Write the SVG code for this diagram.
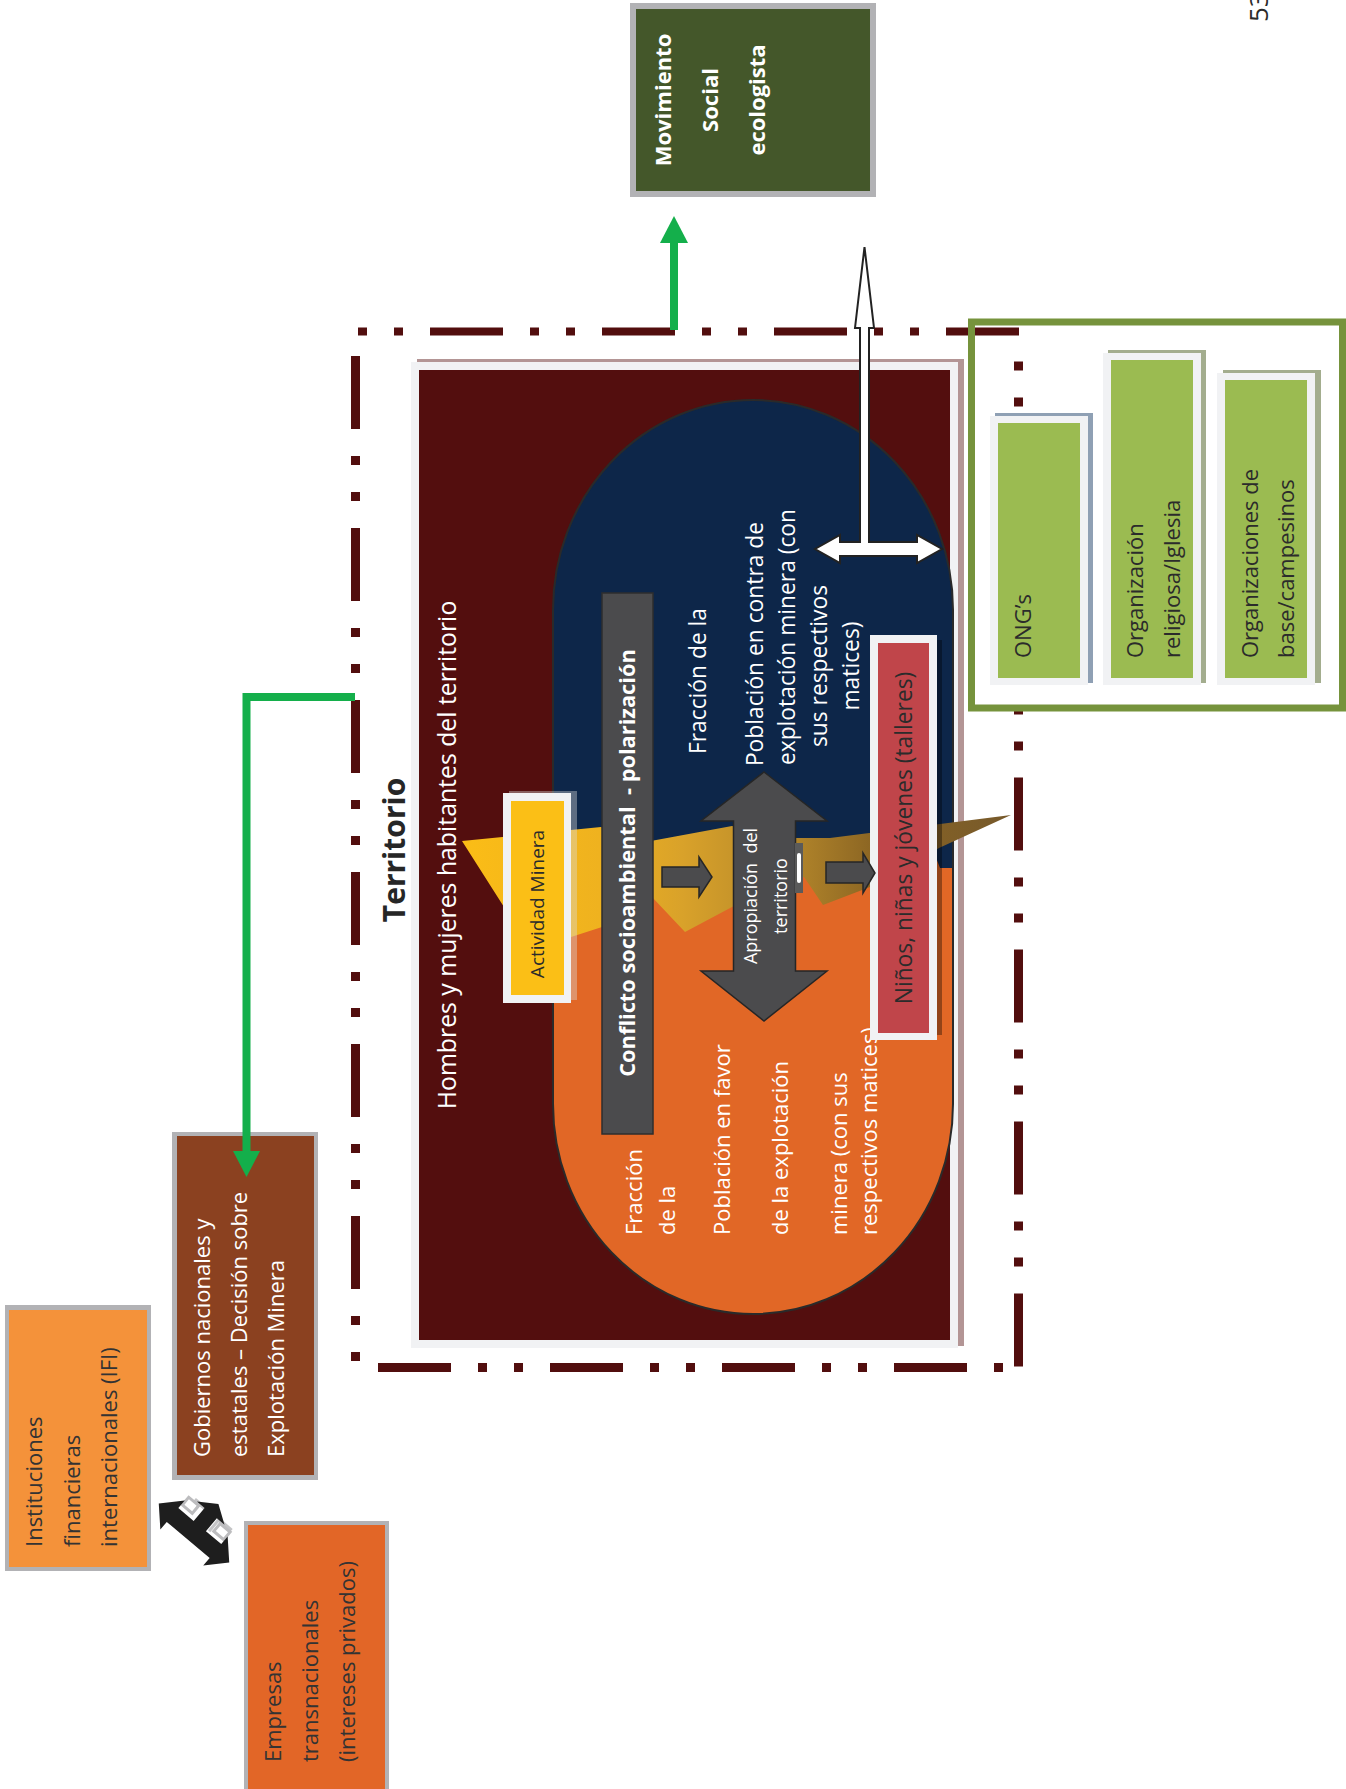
<svg xmlns="http://www.w3.org/2000/svg" width="1346" height="1789" viewBox="0 0 1346 1789">
<defs>
<style>
text{font-family:"Open Sans","Noto Sans","Liberation Sans",sans-serif;}
.w{fill:#ffffff}
.d{fill:#2b2b2b}
.bold{font-weight:700}
.f22{font-size:22px}
.mid{text-anchor:middle}
.dash{fill:none;stroke:#520e0e;stroke-linecap:butt}
.gbox{fill:#b2b2b5}
.garrow{fill:#4b4b4d;stroke:#262626;stroke-width:1.5}
</style>
<linearGradient id="band" gradientUnits="userSpaceOnUse" x1="462" y1="0" x2="1011" y2="0">
<stop offset="0" stop-color="#fbbd16"/>
<stop offset="0.25" stop-color="#efb21f"/>
<stop offset="0.4" stop-color="#d9a22a"/>
<stop offset="0.6" stop-color="#b3862a"/>
<stop offset="0.75" stop-color="#8b6523"/>
<stop offset="1" stop-color="#76592b"/>
</linearGradient>
<clipPath id="blueClip"><polygon points="540,380 970,380 970,868 940,868 935,855 870,858 804,862 732,866 652,870 540,880"/></clipPath>
<path id="stad" d="M553,610 A200,210 0 0 1 953,610 L953,1104 A200,210 0 0 1 553,1104 Z"/>
</defs>
<rect x="0" y="0" width="1346" height="1789" fill="#ffffff"/>

<text class="d" font-size="26" transform="translate(1268,22) rotate(-90)" fill="#333">53</text>

<g id="movimiento">
<rect x="630" y="3" width="246" height="194" class="gbox"/>
<rect x="636" y="9" width="234" height="182" fill="#44572a"/>
<text class="w bold f22 mid" transform="translate(671,100) rotate(-90)">Movimiento</text>
<text class="w bold f22 mid" transform="translate(718,100) rotate(-90)">Social</text>
<text class="w bold f22 mid" transform="translate(765,100) rotate(-90)">ecologista</text>
</g>

<g id="territorio">
<rect x="417" y="359" width="547" height="987" fill="#b39595"/>
<rect x="411" y="362" width="547" height="986" fill="#f1f2f4"/>
<rect x="419" y="370" width="531" height="970" fill="#530e0e"/>
<use href="#stad" fill="#e16726"/>
<use href="#stad" fill="#0d2649" clip-path="url(#blueClip)"/>
<use href="#stad" fill="none" stroke="#2a2a2a" stroke-width="2"/>
<polygon fill="url(#band)" points="462,841 601,827 640,843 732,826 790,838 830,838 1011,815 939,848 870,887 823,905 804,877 760,895 732,907 685,932 652,897 620,915 602,927 571,937 540,925 504,907"/>
<text class="w" font-size="24.8" text-anchor="middle" transform="translate(456,855) rotate(-90)">Hombres y mujeres habitantes del territorio</text>
</g>

<g id="poblacion-contra">
<text class="w mid" font-size="22.8" transform="translate(706,681) rotate(-90)">Fracción de la</text>
<text class="w mid" font-size="22.8" transform="translate(763,644) rotate(-90)">Población en contra de</text>
<text class="w mid" font-size="22.8" transform="translate(795,637) rotate(-90)">explotación minera (con</text>
<text class="w mid" font-size="22.8" transform="translate(827,666) rotate(-90)">sus respectivos</text>
<text class="w mid" font-size="22.8" transform="translate(859,666) rotate(-90)">matices)</text>
</g>

<g id="poblacion-favor">
<text class="w f22" transform="translate(642,1235) rotate(-90)">Fracción</text>
<text class="w f22" transform="translate(675,1235) rotate(-90)">de la</text>
<text class="w f22" transform="translate(730,1235) rotate(-90)">Población en favor</text>
<text class="w f22" transform="translate(788,1235) rotate(-90)">de la explotación</text>
<text class="w f22" transform="translate(847,1235) rotate(-90)">minera (con sus</text>
<text class="w f22" transform="translate(877,1235) rotate(-90)">respectivos matices)</text>
</g>

<g id="actividad-minera">
<rect x="509" y="791" width="68" height="209" fill="#d9d9d9" opacity="0.4"/>
<rect x="503" y="793" width="68" height="210" fill="#f1f2f4"/>
<rect x="511" y="801" width="53" height="194" fill="#fbbf16"/>
<text class="d mid" font-size="19" transform="translate(544,904) rotate(-90)">Actividad Minera</text>
</g>

<g id="conflicto">
<rect x="602" y="593" width="51" height="541" fill="#4b4b4d" stroke="#2e2e2e" stroke-width="1.5"/>
<text class="w bold mid" font-size="21.8" style="white-space:pre" transform="translate(635,863) rotate(-90)">Conflicto socioambiental  - polarización</text>
</g>

<g id="apropiacion">
<path class="garrow" d="M764,772 L827,821 L795.5,821 L795.5,971 L827,971 L764,1021 L701,971 L733.5,971 L733.5,821 L701,821 Z"/>
<rect x="795" y="843" width="8" height="50" fill="#5a5a5a"/>
<rect x="797" y="853" width="4" height="30" rx="2" fill="#ffffff"/>
<text class="w mid" font-size="18" style="white-space:pre" transform="translate(757,896) rotate(-90)">Apropiación  del</text>
<text class="w mid" font-size="18" transform="translate(787,896) rotate(-90)">territorio</text>
</g>

<g id="ninos">
<rect x="937" y="640" width="5" height="395" fill="#000" opacity="0.35"/>
<rect x="870" y="635" width="67" height="405" fill="#f1f2f4"/>
<rect x="878" y="643" width="51" height="390" fill="#c0454a"/>
<text class="d mid" font-size="22.8" transform="translate(912,838) rotate(-90)">Niños, niñas y jóvenes (talleres)</text>
</g>

<g id="borde-territorio">
<path class="dash" stroke-width="8" stroke-dasharray="9 27 9 27 73 27" d="M358,331.5 H1023"/>
<path class="dash" stroke-width="9" stroke-dasharray="73 27 9 27 9 27" d="M355.5,356 V1363"/>
<path class="dash" stroke-width="9" stroke-dasharray="73 27 9 27 9 27" d="M378,1367.5 H1005"/>
<path class="dash" stroke-width="9" stroke-dasharray="9 27 9 27 73 27" d="M1018.5,361.5 V1368"/>
</g>

<g id="organizaciones">
<rect x="971.5" y="322" width="371" height="386" fill="none" stroke="#76933c" stroke-width="7"/>
<g id="ongs">
<rect x="995" y="413" width="98" height="270" fill="#8fa0b4"/>
<rect x="990" y="416" width="98" height="269" fill="#f1f2f4"/>
<rect x="998" y="423" width="82" height="255" fill="#9bbb51"/>
<text class="d f22" transform="translate(1031,658) rotate(-90)">ONG’s</text>
</g>
<g id="iglesia">
<rect x="1108" y="350" width="98" height="333" fill="#a3ad8e"/>
<rect x="1103" y="353" width="98" height="332" fill="#f1f2f4"/>
<rect x="1111" y="360" width="82" height="318" fill="#9bbb51"/>
<text class="d f22" transform="translate(1143,658) rotate(-90)">Organización</text>
<text class="d f22" transform="translate(1180,658) rotate(-90)">religiosa/Iglesia</text>
</g>
<g id="campesinos">
<rect x="1223" y="370" width="98" height="313" fill="#a3ad8e"/>
<rect x="1217" y="373" width="98" height="312" fill="#f1f2f4"/>
<rect x="1225" y="380" width="82" height="298" fill="#9bbb51"/>
<text class="d f22" transform="translate(1258,658) rotate(-90)">Organizaciones de</text>
<text class="d f22" transform="translate(1294,658) rotate(-90)">base/campesinos</text>
</g>
</g>

<g id="gobiernos">
<rect x="172" y="1132" width="146" height="348" class="gbox"/>
<rect x="177" y="1136" width="137" height="339" fill="#8b4120"/>
<text class="w f22" transform="translate(210,1457) rotate(-90)">Gobiernos nacionales y</text>
<text class="w f22" transform="translate(247,1457) rotate(-90)">estatales – Decisión sobre</text>
<text class="w f22" transform="translate(284,1457) rotate(-90)">Explotación Minera</text>
</g>

<g id="instituciones">
<rect x="5" y="1305" width="146" height="266" class="gbox"/>
<rect x="9" y="1310" width="138" height="257" fill="#f4923a"/>
<text class="f22" fill="#333" transform="translate(42,1547) rotate(-90)">Instituciones</text>
<text class="f22" fill="#333" transform="translate(80,1547) rotate(-90)">financieras</text>
<text class="f22" fill="#333" transform="translate(117,1547) rotate(-90)">internacionales (IFI)</text>
</g>

<g id="empresas">
<rect x="244" y="1521" width="145" height="268" class="gbox"/>
<rect x="248" y="1525" width="137" height="264" fill="#e26627"/>
<text class="f22" fill="#333" transform="translate(281,1762) rotate(-90)">Empresas</text>
<text class="f22" fill="#333" transform="translate(318,1762) rotate(-90)">transnacionales</text>
<text class="f22" fill="#333" transform="translate(355,1762) rotate(-90)">(intereses privados)</text>
</g>

<g id="connectors">
<path d="M674,330 V240" stroke="#14af4b" stroke-width="8" fill="none"/>
<polygon points="674,216 688,243 660,243" fill="#14af4b"/>
<path d="M355,697 H246.5 V1153" stroke="#14af4b" stroke-width="8" fill="none"/>
<polygon points="246.5,1177 260,1151 233,1151" fill="#14af4b"/>
<path d="M864.5,247 L874,328 L869,328 L869,542 L917,542 L917,535 L942,549 L917,563 L917,556 L840,556 L840,563 L815,549 L840,535 L840,542 L860,542 L860,328 L855,328 Z" fill="#ffffff" stroke="#222" stroke-width="2" stroke-linejoin="miter"/>
<path class="garrow" d="M662,867 H699 V857 L712,877 L699,897 V887 H662 Z"/>
<path class="garrow" d="M826,862 H863 V853 L875,873 L863,893 V883 H826 Z"/>
<g transform="translate(194,1533) rotate(40)">
<path d="M-9,-9 L-9,-22 L-24,-22 L-24,-26 L-6,-26 L-6,-9 Z M9,-9 L9,-22 L24,-22 L24,-26 L6,-26 L6,-9 Z" fill="#c4c4c6" transform="translate(3,-2)"/>
<rect x="-27" y="-24" width="13" height="10" fill="#ffffff" stroke="#bcbcbe" stroke-width="3"/>
<rect x="14" y="-24" width="13" height="10" fill="#ffffff" stroke="#bcbcbe" stroke-width="3"/>
<path d="M-46,0 L-28,-19 L-28,-9 L-8,-9 L-8,-26 L-18,-26 L0,-38 L18,-26 L8,-26 L8,-9 L28,-9 L28,-19 L46,0 L28,19 L28,9 L-28,9 L-28,19 Z" fill="#1e1e1e"/>
</g>
</g>

<text class="bold mid" font-size="30" fill="#262626" transform="translate(405,850) rotate(-90)">Territorio</text>
</svg>
